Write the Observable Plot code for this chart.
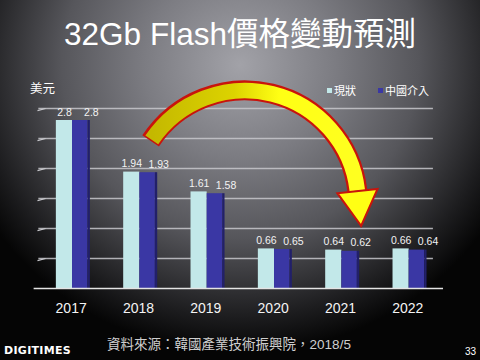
<!DOCTYPE html>
<html>
<head>
<meta charset="utf-8">
<script src="https://cdn.jsdelivr.net/npm/d3@7"></script>
<script src="https://cdn.jsdelivr.net/npm/@observablehq/plot@0.6"></script>
<style>
  html, body { margin: 0; padding: 0; background: #000; }
  #chart {
    position: relative; width: 480px; height: 360px; overflow: hidden;
    background: radial-gradient(ellipse 62% 80% at 50% 18%, #a2a2a8 0%, #7c7c82 32%, #56565b 60%, #1c1c1e 88%, #050505 100%);
    font-family: "Liberation Sans", "Noto Sans CJK TC", sans-serif;
  }
  #title { position: absolute; top: 15px; left: 0; width: 480px; text-align: center; color: #fff; font-size: 31.5px; line-height: 38px; }
  #unit { position: absolute; top: 78px; left: 30px; color: #fff; font-size: 12.5px; }
  #legend { position: absolute; top: 82px; left: 327px; color: #fff; font-size: 11px; display: flex; gap: 0; }
  #legend span.item { display: inline-flex; align-items: center; }
  #legend i { display: inline-block; width: 5px; height: 5px; margin-right: 2px; }
  #plot { position: absolute; top: 70px; left: 0; }
  #caption { position: absolute; top: 333px; left: 0; width: 458px; text-align: center; color: #cfcfcf; font-size: 13.5px; }
  #logo { position: absolute; top: 344px; left: 4px; color: #fff; font-family: "DejaVu Sans", sans-serif; font-weight: bold; font-size: 11px; letter-spacing: 0.3px; }
  #page { position: absolute; top: 346px; left: 465px; color: #fff; font-size: 10px; }
</style>
</head>
<body>
<div id="chart">
  <div id="title">32Gb Flash價格變動預測</div>
  <div id="unit">美元</div>
  <div id="legend"></div>
  <div id="plot"></div>
  <div id="caption">資料來源：韓國產業技術振興院，2018/5</div>
  <div id="logo">DIGITIMES</div>
  <div id="page">33</div>
</div>
<script>
const years = [2017, 2018, 2019, 2020, 2021, 2022];
const current = [2.8, 1.94, 1.61, 0.66, 0.64, 0.66];
const intervention = [2.8, 1.93, 1.58, 0.65, 0.62, 0.64];
const yTicks = [0.5, 1, 1.5, 2, 2.5, 3];
const seriesNames = ["現狀", "中國介入"];
const seriesColors = ["#c2e8e9", "#3a37a4"];

const rows = years.map((year, i) => ({year, current: current[i], china: intervention[i]}));

// legend
const legend = document.getElementById("legend");
seriesNames.forEach((name, i) => {
  const s = document.createElement("span");
  s.className = "item";
  s.style.marginRight = i === 0 ? "22px" : "0";
  s.innerHTML = `<i style="background:${seriesColors[i]}"></i>${name}`;
  legend.appendChild(s);
});

const defsMark = () => {
  const g = document.createElementNS("http://www.w3.org/2000/svg", "g");
  g.innerHTML = `<defs><linearGradient id="arrowGrad" x1="0" x2="1" y1="0" y2="0">
    <stop offset="0" stop-color="#c4b800"/><stop offset="0.4" stop-color="#dcd300"/>
    <stop offset="0.62" stop-color="#ffff14"/><stop offset="1" stop-color="#ffff20"/></linearGradient></defs>`;
  return g;
};

const plot = Plot.plot({
  width: 480,
  height: 250,
  marginLeft: 37,
  marginRight: 39,
  marginTop: 38,
  marginBottom: 32,
  style: {background: "transparent", overflow: "visible", fontFamily: "'Liberation Sans', 'Noto Sans CJK TC', sans-serif", color: "#f2f2f2"},
  x: {type: "linear", domain: [2016.5, 2022.5], axis: null},
  y: {domain: [0, 3], axis: null},
  marks: [
    defsMark,
    Plot.ruleY(yTicks, {x1: () => 2016.52, x2: () => 2022.38, stroke: "#c8c8cc", strokeWidth: 1.6, strokeOpacity: 0.85}),
    Plot.link(yTicks, {x1: () => 2016.5, x2: () => 2016.62, y1: d => d - 0.035, y2: d => d, stroke: "#c8c8cc", strokeWidth: 1.2}),
    Plot.rectY(rows, {x1: d => d.year - 0.22, x2: d => d.year + 0.02, y1: 0, y2: "current", fill: seriesColors[0]}),
    Plot.rectY(rows, {x1: d => d.year + 0.02, x2: d => d.year + 0.25, y1: 0, y2: "china", fill: seriesColors[1]}),
    Plot.rectY(rows, {x1: d => d.year + 0.25, x2: d => d.year + 0.285, y1: 0, y2: "china", fill: "#22206a"}),
    Plot.ruleY([0], {x1: () => 2016.45, x2: () => 2022.53, stroke: "#e4e4e4", strokeWidth: 1.6}),
    Plot.text(rows, {x: d => d.year - 0.1, y: "current", text: d => String(d.current), dy: -5, lineAnchor: "bottom", fill: "#f2f2f2", fontSize: 10.5}),
    Plot.text(rows, {x: d => d.year + 0.3, y: "china", text: d => String(d.china), dy: -5, lineAnchor: "bottom", fill: "#f2f2f2", fontSize: 10.5}),
    Plot.text(years, {x: d => d, y: () => 0, text: d => String(d), dy: 20, fill: "#f4f4f4", fontSize: 14}),
    // annotation arrow
    Plot.arrow([0], {x1: () => 2018.18, y1: () => 2.46, x2: () => 2021.25, y2: () => 1.63, bend: 70, headLength: 0, stroke: "#c8140c", strokeWidth: 20, strokeLinecap: "butt"}),
    Plot.arrow([0], {x1: () => 2018.185, y1: () => 2.455, x2: () => 2021.25, y2: () => 1.63, bend: 70, headLength: 0, stroke: "url(#arrowGrad)", strokeWidth: 15.5, strokeLinecap: "butt", insetStart: 1.5}),
    Plot.dot([0], {x: () => 2021.27, y: () => 1.43, symbol: "triangle", r: 15, rotate: 174, fill: "#ffff14", stroke: "#c8140c", strokeWidth: 2})
  ]
});
document.getElementById("plot").appendChild(plot);
</script>
</body>
</html>
